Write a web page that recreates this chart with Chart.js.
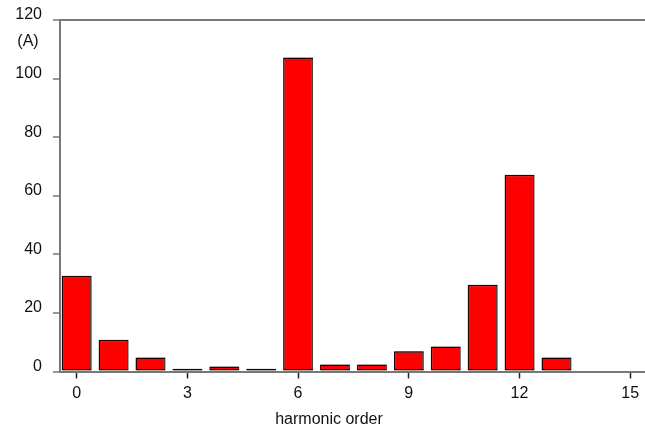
<!DOCTYPE html>
<html>
<head>
<meta charset="utf-8">
<script src="https://cdn.jsdelivr.net/npm/chart.js@4"></script>
<style>
  html, body { margin: 0; padding: 0; background: #fff; }
  #wrap { width: 645px; height: 432px; }
</style>
</head>
<body>
<div id="wrap"><canvas id="harmonicChart"></canvas></div>
<script>
// harmonic spectrum of the current
const orders = [0, 1, 2, 3, 4, 5, 6, 7, 8, 9, 10, 11, 12, 13];
const currents = [32.7, 10.8, 4.8, 0.9, 1.7, 0.9, 107.2, 2.4, 2.4, 6.9, 8.5, 29.6, 67.2, 4.8];
const xTicks = [0, 3, 6, 9, 12, 15];
const yTicks = [0, 20, 40, 60, 80, 100, 120];

const FONT = '"Liberation Sans", Arial, sans-serif';

// unit label and axis title
const extraText = {
  id: 'extraText',
  afterDraw(chart) {
    const c = chart.ctx;
    c.save();
    c.fillStyle = '#111';
    c.font = '16px ' + FONT;
    c.textAlign = 'center';
    c.textBaseline = 'middle';
    c.fillText('(A)', 28, 42);
    c.fillText('harmonic order', 329, 420);
    c.restore();
  }
};

// thin grey shade on the right of each bar
const barShade = {
  id: 'barShade',
  beforeDatasetsDraw(chart) {
    const c = chart.ctx;
    c.save();
    c.shadowColor = 'rgba(90,90,90,0.7)';
    c.shadowOffsetX = 1.5;
    c.shadowOffsetY = 0;
    c.shadowBlur = 0;
  },
  afterDatasetsDraw(chart) {
    chart.ctx.restore();
  }
};

const ctx = document.getElementById('harmonicChart').getContext('2d');
new Chart(ctx, {
  type: 'bar',
  data: {
    datasets: [{
      data: orders.map((o, i) => ({ x: o, y: currents[i] })),
      backgroundColor: '#ff0000',
      borderColor: '#200000',
      borderWidth: 1.5,
      borderSkipped: false,
      categoryPercentage: 1,
      barPercentage: 0.81
    }]
  },
  options: {
    responsive: true,
    maintainAspectRatio: false,
    animation: false,
    layout: { padding: { top: 20, right: 0, left: 0, bottom: 0 } },
    plugins: { legend: { display: false }, tooltip: { enabled: false } },
    scales: {
      x: {
        type: 'linear',
        offset: false,
        min: -0.45,
        max: 15.4,
        afterFit: s => { s.height = 60.5; },
        afterBuildTicks: s => { s.ticks = xTicks.map(v => ({ value: v })); },
        ticks: { font: { size: 16, family: FONT }, color: '#111', padding: 5, maxRotation: 0 },
        grid: { offset: false, drawOnChartArea: false, tickLength: 7, tickColor: '#222', tickWidth: 1.5 },
        border: { color: '#777', width: 2 }
      },
      y: {
        min: 0,
        max: 120,
        afterFit: s => { s.width = 60; },
        afterBuildTicks: s => { s.ticks = yTicks.map(v => ({ value: v })); },
        ticks: { font: { size: 16, family: FONT }, color: '#111', padding: 8, labelOffset: -5 },
        grid: {
          color: c => (c.tick && c.tick.value === 120 ? '#777' : 'rgba(0,0,0,0)'),
          lineWidth: 2,
          tickLength: 10,
          tickColor: '#777',
          tickWidth: 1.5,
          tickBorderDash: [0, 3, 7, 50]
        },
        border: { color: '#777', width: 2 }
      }
    }
  },
  plugins: [barShade, extraText]
});
</script>
</body>
</html>
